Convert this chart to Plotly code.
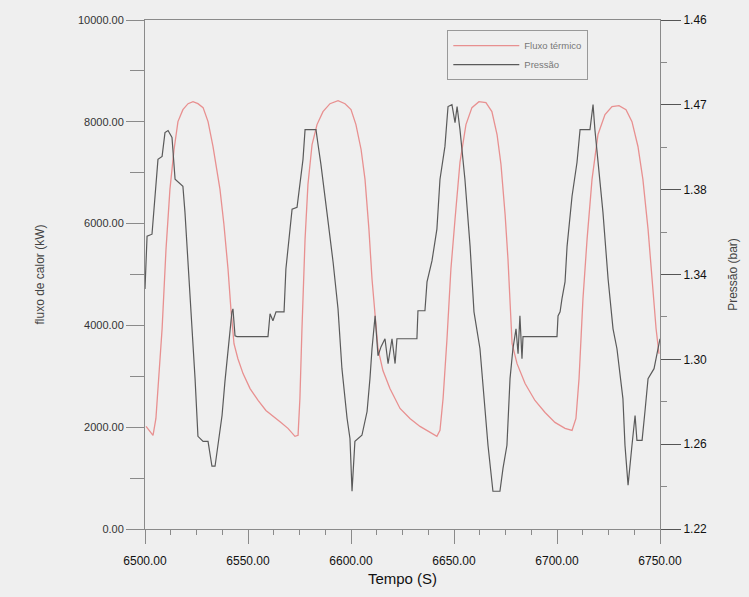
import plotly.graph_objects as go

# Heat flux (left axis, kW)
flux_t = [6500.5, 6502.4, 6503.9, 6505.3, 6506.8, 6508.3, 6510.2, 6512.1, 6514.1, 6516.0,
          6518.4, 6520.9, 6523.3, 6525.7, 6528.2, 6530.6, 6533.0, 6535.0, 6536.4, 6538.3,
          6540.3, 6541.7, 6543.2, 6545.1, 6547.6, 6551.0, 6554.9, 6558.7, 6562.6, 6566.0,
          6569.4, 6572.8, 6574.3, 6575.2, 6576.2, 6577.7, 6579.1, 6581.1, 6583.5, 6586.4,
          6589.8, 6593.7, 6597.1, 6600.0, 6602.4, 6604.9, 6606.8, 6608.7, 6610.2, 6611.7,
          6613.1, 6615.5, 6618.9, 6623.8, 6628.6, 6633.5, 6638.3, 6641.7, 6643.2, 6644.7,
          6646.6, 6648.5, 6650.5, 6652.9, 6655.8, 6658.7, 6662.1, 6665.5, 6668.4, 6670.9,
          6672.8, 6674.8, 6676.2, 6677.2, 6678.2, 6680.6, 6684.5, 6689.3, 6694.2, 6699.0,
          6703.9, 6707.3, 6709.2, 6710.7, 6712.6, 6714.6, 6717.0, 6719.9, 6723.3, 6726.7,
          6730.1, 6733.5, 6736.4, 6739.3, 6741.7, 6744.2, 6746.1, 6748.1, 6749.5]
flux_v = [2016, 1918, 1840, 2172, 3151, 3934, 5499, 6673, 7456, 8004,
          8239, 8356, 8395, 8356, 8278, 8004, 7515, 7065, 6673, 5988,
          5108, 4325, 3640, 3346, 3053, 2759, 2525, 2329, 2211, 2094,
          1977, 1820, 1840, 2564, 3934, 5695, 6771, 7554, 7945, 8200,
          8356, 8415, 8356, 8239, 7945, 7456, 6869, 5891, 4912, 4129,
          3542, 3112, 2759, 2368, 2172, 2016, 1898, 1820, 1937, 2564,
          3738, 5108, 6086, 7202, 7945, 8278, 8395, 8376, 8200, 7750,
          7163, 6184, 5303, 4521, 3640, 3249, 2857, 2525, 2290, 2094,
          1977, 1937, 2172, 2955, 4521, 5695, 6869, 7750, 8141, 8298,
          8317, 8239, 8004, 7515, 6869, 5891, 4912, 3934, 3444]

# Pressure (right axis, bar)
pres_t = [6500.0, 6501.0, 6503.4, 6504.9, 6505.8, 6506.3, 6508.3, 6509.7, 6511.2, 6513.1,
          6514.6, 6516.0, 6518.4, 6519.4, 6520.9, 6522.8, 6524.3, 6525.7, 6528.2, 6530.6,
          6532.5, 6534.0, 6535.4, 6537.4, 6538.8, 6540.3, 6542.2, 6542.7, 6543.7, 6544.7,
          6559.7, 6560.7, 6562.1, 6563.6, 6567.5, 6568.4, 6569.9, 6571.4, 6573.8, 6575.2,
          6576.7, 6577.7, 6583.0, 6584.0, 6585.4, 6588.3, 6591.3, 6593.7, 6595.6, 6598.1,
          6599.5, 6600.5, 6601.9, 6605.3, 6607.8, 6609.2, 6610.2, 6611.7, 6613.1, 6614.6,
          6616.5, 6618.0, 6619.9, 6621.4, 6622.3, 6632.0, 6632.5, 6635.9, 6636.9, 6639.3,
          6641.7, 6643.2, 6645.6, 6647.1, 6649.0, 6650.5, 6651.5, 6652.9, 6655.3, 6657.8,
          6659.7, 6662.6, 6665.0, 6666.5, 6668.9, 6672.3, 6673.8, 6675.7, 6677.2, 6678.6,
          6680.1, 6681.1, 6682.0, 6683.0, 6683.5, 6700.0, 6700.5, 6701.5, 6702.4, 6703.9,
          6704.9, 6707.3, 6709.7, 6711.2, 6716.0, 6717.5, 6718.4, 6719.9, 6722.3, 6724.8,
          6727.2, 6729.1, 6732.0, 6733.0, 6734.5, 6736.4, 6737.9, 6738.8, 6741.3, 6742.7,
          6744.2, 6747.1, 6750.0]
pres_v = [1.3332, 1.3581, 1.3590, 1.3755, 1.3849, 1.3943, 1.3957, 1.4069, 1.4079, 1.4046,
          1.3849, 1.3835, 1.3816, 1.3694, 1.3459, 1.3191, 1.2909, 1.2637, 1.2613, 1.2613,
          1.2496, 1.2496, 1.2595, 1.2735, 1.2895, 1.3050, 1.3224, 1.3238, 1.3111, 1.3107,
          1.3107, 1.3215, 1.3182, 1.3224, 1.3224, 1.3426, 1.3567, 1.3708, 1.3717, 1.3825,
          1.3943, 1.4083, 1.4083, 1.4013, 1.3919, 1.3694, 1.3459, 1.3238, 1.2956, 1.2721,
          1.2627, 1.2378, 1.2613, 1.2642, 1.2754, 1.2909, 1.3050, 1.3205, 1.3017, 1.3060,
          1.3097, 1.2980, 1.3097, 1.2980, 1.3097, 1.3097, 1.3229, 1.3229, 1.3365, 1.3464,
          1.3614, 1.3849, 1.4004, 1.4192, 1.4201, 1.4116, 1.4192, 1.4083, 1.3849, 1.3534,
          1.3224, 1.3050, 1.2768, 1.2595, 1.2378, 1.2378, 1.2487, 1.2595, 1.2909, 1.3050,
          1.3144, 1.3027, 1.3205, 1.3003, 1.3107, 1.3107, 1.3205, 1.3224, 1.3285, 1.3365,
          1.3534, 1.3769, 1.3928, 1.4083, 1.4083, 1.4201, 1.4083, 1.3928, 1.3694, 1.3379,
          1.3144, 1.3050, 1.2815, 1.2595, 1.2407, 1.2595, 1.2735, 1.2618, 1.2618, 1.2754,
          1.2909, 1.2956, 1.3097]

x_ticks = [6500, 6550, 6600, 6650, 6700, 6750]
y_ticks = [0, 2000, 4000, 6000, 8000, 10000]
y2_ticks = [1.22, 1.26, 1.30, 1.34, 1.38, 1.42, 1.46]
y2_labels = ["1.22", "1.26", "1.30", "1.34", "1.38", "1.47", "1.46"]

BG = "#efefef"
AX = "#8a8a8a"
FONT = "Liberation Sans, Arial, sans-serif"

fig = go.Figure()
fig.add_trace(go.Scatter(x=flux_t, y=flux_v, mode="lines", name="Fluxo térmico",
                         line=dict(color="#e89090", width=1.3)))
fig.add_trace(go.Scatter(x=pres_t, y=pres_v, mode="lines", name="Pressão", yaxis="y2",
                         line=dict(color="#5a5a5a", width=1.2)))

fig.update_layout(
    width=749, height=597,
    margin=dict(l=145, r=89, t=20, b=66),
    paper_bgcolor=BG, plot_bgcolor=BG,
    font=dict(family=FONT, size=12, color="#222"),
    showlegend=True,
    legend=dict(x=0.587, y=0.98, xanchor="left", yanchor="top",
                bgcolor=BG, bordercolor="#999", borderwidth=1,
                font=dict(size=9.5, color="#777"), itemwidth=66,
                tracegroupgap=0),
    xaxis=dict(range=[6500, 6750], tickvals=x_ticks, tickformat=".2f",
               showgrid=False, zeroline=False, showline=True, linecolor=AX,
               linewidth=1, mirror=True, ticks="outside", ticklen=14,
               tickcolor=AX, tickfont=dict(size=12, color="#111"),
               ticklabelstandoff=7,
               minor=dict(dtick=12.5, ticks="outside", ticklen=5, tickcolor=AX),
               title=dict(text="Tempo (S)", font=dict(size=15, color="#111"), standoff=6)),
    yaxis=dict(range=[0, 10000], tickvals=y_ticks, tickformat=".2f",
               showgrid=False, zeroline=False, showline=True, linecolor=AX,
               linewidth=1, ticks="outside", ticklen=18, tickcolor=AX,
               tickfont=dict(size=11, color="#333"),
               minor=dict(dtick=1000, ticks="outside", ticklen=14, tickcolor=AX),
               title=dict(text="fluxo de calor (kW)", font=dict(size=12, color="#444"), standoff=30)),
    yaxis2=dict(range=[1.22, 1.46], overlaying="y", side="right",
                tickvals=y2_ticks, ticktext=y2_labels,
                showgrid=False, zeroline=False, showline=True, linecolor=AX,
                linewidth=1, ticks="outside", ticklen=20, tickcolor="#555",
                tickfont=dict(size=12, color="#111"),
                minor=dict(dtick=0.02, ticks="outside", ticklen=6, tickcolor=AX),
                title=dict(text="Pressão (bar)", font=dict(size=12, color="#444"), standoff=22)),
)

fig.write_html("out.html")
